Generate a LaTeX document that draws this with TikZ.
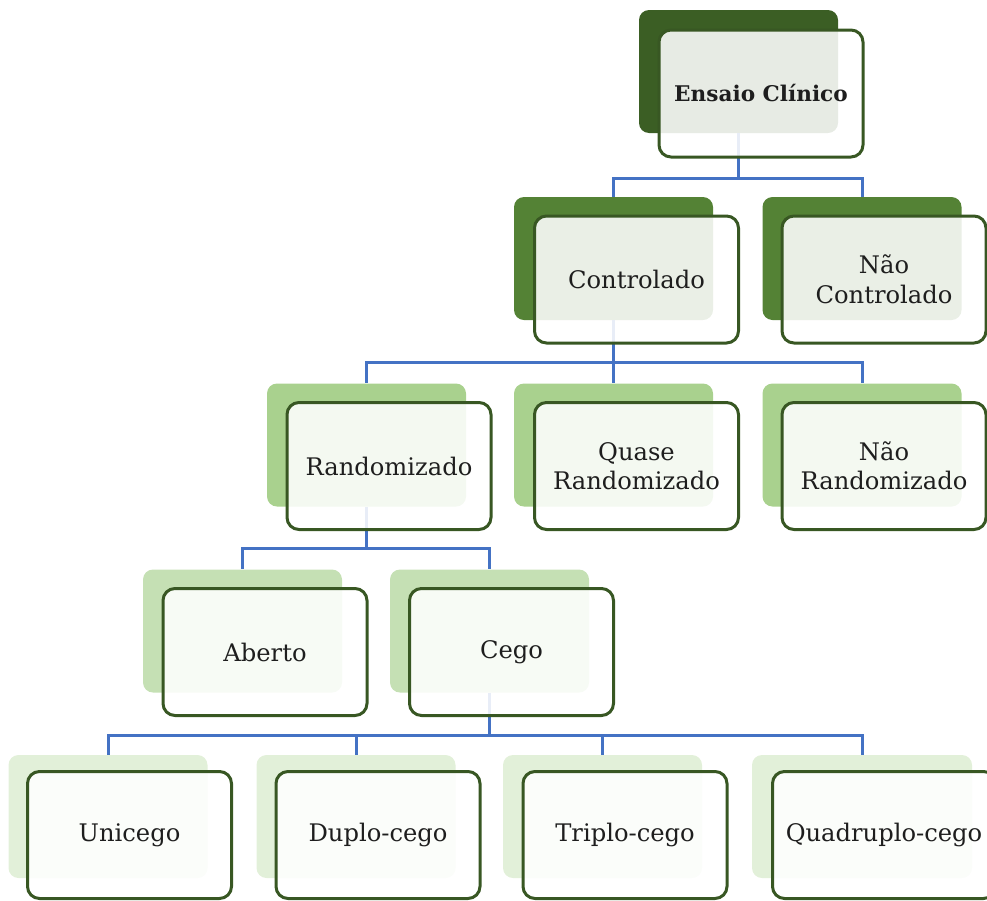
\documentclass[tikz,border=0pt]{standalone}
\usepackage{fontspec}
\setmainfont{DejaVu Serif}
\definecolor{lv0}{RGB}{59,94,36}
\definecolor{lv1}{RGB}{84,130,53}
\definecolor{lv2}{RGB}{169,209,142}
\definecolor{lv3}{RGB}{197,224,180}
\definecolor{lv4}{RGB}{226,240,217}
\definecolor{fgborder}{RGB}{56,87,35}
\definecolor{connblue}{RGB}{68,114,196}
\definecolor{txt}{RGB}{30,30,30}
\begin{document}
\begin{tikzpicture}[x=1pt,y=-1pt,
  sh/.style={rounded corners=10pt, minimum width=199pt, minimum height=123pt, inner sep=0pt, fill=#1},
  fgbox/.style={draw=fgborder, line width=3pt, rounded corners=12pt, fill=white, fill opacity=0.88, text opacity=1, text=txt, minimum width=204pt, minimum height=127pt, inner sep=0pt, align=center, font=\fontsize{24.2}{29.5}\selectfont},
  conn/.style={draw=connblue, line width=3pt}]
\useasboundingbox (0,0) rectangle (987,900);
% shadows
\node[sh=lv0] (s0) at (738.5,71.5) {};
\node[sh=lv1] (s1) at (613.5,258.5) {};
\node[sh=lv1] (s2) at (862,258.5) {};
\node[sh=lv2] (s3) at (366.5,445) {};
\node[sh=lv2] (s4) at (613.5,445) {};
\node[sh=lv2] (s5) at (862,445) {};
\node[sh=lv3] (s6) at (242.5,631) {};
\node[sh=lv3] (s7) at (489.5,631) {};
\node[sh=lv4] (s8) at (108,816.5) {};
\node[sh=lv4] (s9) at (356,816.5) {};
\node[sh=lv4] (s10) at (602.5,816.5) {};
\node[sh=lv4, minimum width=220pt] (s11) at (862,816.5) {};
% bus coordinates
\coordinate (b0) at (738.5,178);
\coordinate (b1) at (613.5,362);
\coordinate (b3) at (366.5,548);
\coordinate (b7) at (489.5,735);
% connectors
\draw[conn] (s0.south) -- (b0) -| (s1.north);
\draw[conn] (b0) -| (s2.north);
\draw[conn] (s1.south) -- (b1) -| (s3.north);
\draw[conn] (b1) -- (s4.north);
\draw[conn] (b1) -| (s5.north);
\draw[conn] (s3.south) -- (b3) -| (s6.north);
\draw[conn] (b3) -| (s7.north);
\draw[conn] (s7.south) -- (b7) -| (s8.north);
\draw[conn] (b7) -| (s9.north);
\draw[conn] (b7) -| (s10.north);
\draw[conn] (b7) -| (s11.north);
% foreground boxes
\node[fgbox, font=\fontsize{21.6}{27}\selectfont\bfseries] (n0) at (761,93.5) {Ensaio Clínico};
\node[fgbox] (n1) at (636.5,279.5) {Controlado};
\node[fgbox] (n2) at (884,279.5) {Não\\Controlado};
\node[fgbox] (n3) at (389,466) {Randomizado};
\node[fgbox] (n4) at (636.5,466) {Quase\\Randomizado};
\node[fgbox] (n5) at (884,466) {Não\\Randomizado};
\node[fgbox] (n6) at (265,652) {Aberto};
\node[fgbox] (n7) at (511.5,652) {Cego};
\node[fgbox] (n8) at (129.5,835) {Unicego};
\node[fgbox] (n9) at (378,835) {Duplo-cego};
\node[fgbox] (n10) at (625,835) {Triplo-cego};
\node[fgbox, minimum width=223pt] (n11) at (884,835) {Quadruplo-cego};
\end{tikzpicture}
\end{document}
